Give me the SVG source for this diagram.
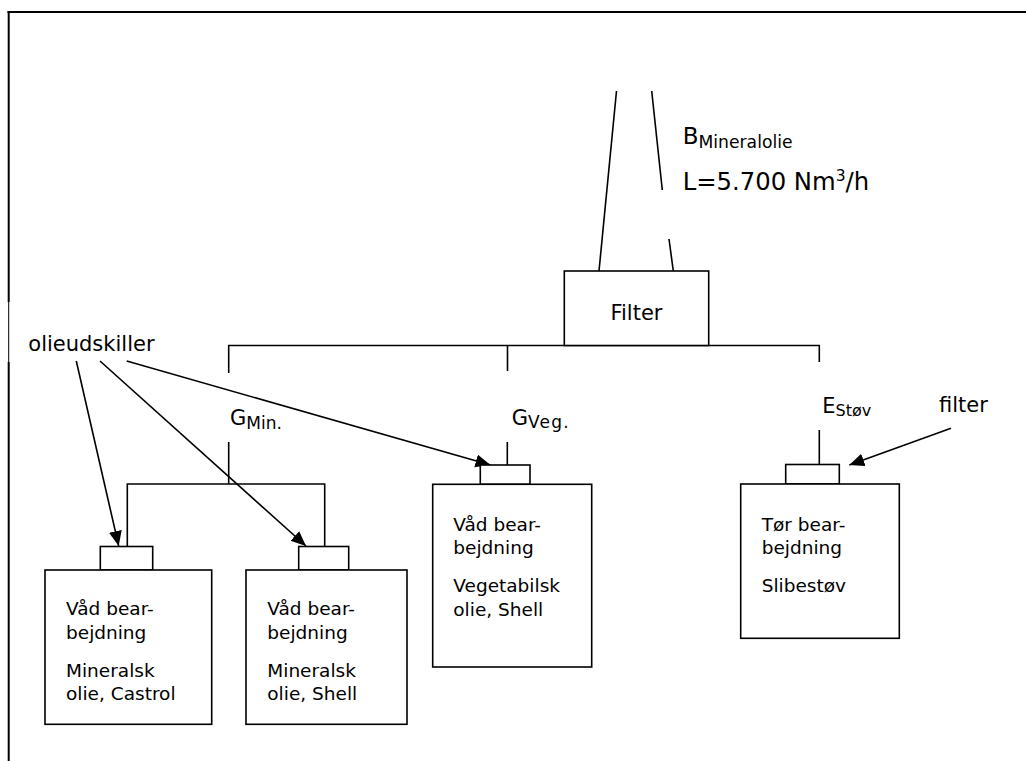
<svg xmlns="http://www.w3.org/2000/svg" width="1026" height="761" viewBox="0 0 1026 761">
<defs>
<style>
.ln{stroke:#000;stroke-width:1.6;fill:none}
.bx{stroke:#000;stroke-width:1.6;fill:#fff}
.t{font-family:"DejaVu Sans",Verdana,sans-serif;fill:#000}
.lab{font-size:21px}
.big{font-size:23px}
.bt{font-size:18.5px}
</style>
<marker id="ah" markerUnits="userSpaceOnUse" markerWidth="16" markerHeight="14" refX="15" refY="6.5" orient="auto">
<path d="M0,0 L15,6.5 L0,13 Z" fill="#000"/>
</marker>
</defs>
<rect width="1026" height="761" fill="#fff"/>
<g id="frame">
<line x1="7.5" y1="12" x2="1026" y2="12" stroke="#000" stroke-width="2.2"/>
<line x1="8.7" y1="11" x2="8.7" y2="302" stroke="#000" stroke-width="2"/>
<line x1="8.7" y1="302" x2="8.7" y2="362" stroke="#000" stroke-width="1"/>
<line x1="8.7" y1="362" x2="8.7" y2="761" stroke="#000" stroke-width="2"/>
</g>
<g id="connectors">
<line class="ln" x1="616.5" y1="91" x2="599" y2="271"/>
<line class="ln" x1="651.7" y1="91" x2="662.3" y2="190"/>
<line class="ln" x1="669" y1="239" x2="673.3" y2="271"/>
<polyline class="ln" points="228.7,373 228.7,345.5 819.3,345.5 819.3,362"/>
<line class="ln" x1="507.5" y1="345.5" x2="507.5" y2="371"/>
<polyline class="ln" points="127.3,546.5 127.3,484 324.7,484 324.7,546.5"/>
<line class="ln" x1="228.7" y1="442" x2="228.7" y2="484"/>
<line class="ln" x1="507.3" y1="442" x2="507.3" y2="465"/>
<line class="ln" x1="819.3" y1="430" x2="819.3" y2="464.5"/>
<line class="ln" x1="76.3" y1="361" x2="118.7" y2="546" marker-end="url(#ah)"/>
<line class="ln" x1="100" y1="361" x2="306" y2="546" marker-end="url(#ah)"/>
<line class="ln" x1="126.7" y1="361" x2="490.5" y2="465" marker-end="url(#ah)"/>
<line class="ln" x1="951" y1="428.3" x2="849.3" y2="465" marker-end="url(#ah)"/>
</g>
<g id="filter">
<rect class="bx" x="564.3" y="271" width="144.4" height="74.5"/>
<text class="t lab" x="636.5" y="320" text-anchor="middle">Filter</text>
</g>
<g id="label-b">
<text class="t big" x="682.7" y="143.5">B<tspan font-size="17.2px" dy="4">Mineralolie</tspan></text>
<text class="t" font-size="24.3px" x="682.7" y="190">L=5.700 Nm<tspan font-size="15.5px" dy="-9.5">3</tspan><tspan dy="9.5">/h</tspan></text>
</g>
<g id="label-olieudskiller">
<text class="t lab" x="28.3" y="351">olieudskiller</text>
</g>
<g id="label-gmin">
<text class="t lab" x="230" y="424.5">G<tspan font-size="17px" dy="4.5">Min.</tspan></text>
</g>
<g id="label-gveg">
<text class="t lab" x="511.7" y="425">G<tspan font-size="17px" dy="3" letter-spacing="1.2">Veg.</tspan></text>
</g>
<g id="label-estov">
<text class="t lab" x="822.3" y="413">E<tspan font-size="16px" dy="2.5">Støv</tspan></text>
</g>
<g id="label-filter">
<text class="t lab" x="939" y="411.7">filter</text>
</g>
<g id="box-castrol">
<rect class="bx" x="100.3" y="546.5" width="52.4" height="23.5"/>
<rect class="bx" x="45" y="570" width="166.7" height="154.3"/>
<text class="t bt"><tspan x="66" y="615">Våd bear-</tspan><tspan x="66" y="638.5">bejdning</tspan><tspan x="66" y="676.5">Mineralsk</tspan><tspan x="66" y="700">olie, Castrol</tspan></text>
</g>
<g id="box-shell-min">
<rect class="bx" x="298.7" y="546.5" width="50" height="23.5"/>
<rect class="bx" x="246" y="570" width="161" height="154.3"/>
<text class="t bt"><tspan x="267.3" y="615">Våd bear-</tspan><tspan x="267.3" y="638.5">bejdning</tspan><tspan x="267.3" y="676.5">Mineralsk</tspan><tspan x="267.3" y="700">olie, Shell</tspan></text>
</g>
<g id="box-veg">
<rect class="bx" x="480.3" y="465" width="49.7" height="19.3"/>
<rect class="bx" x="432.7" y="484.3" width="159" height="182.7"/>
<text class="t bt"><tspan x="453.3" y="530.5">Våd bear-</tspan><tspan x="453.3" y="554">bejdning</tspan><tspan x="453.3" y="592">Vegetabilsk</tspan><tspan x="453.3" y="615.5">olie, Shell</tspan></text>
</g>
<g id="box-stov">
<rect class="bx" x="785.7" y="464.5" width="53.6" height="19.5"/>
<rect class="bx" x="740.7" y="484" width="158.6" height="154.3"/>
<text class="t bt"><tspan x="761.7" y="530.5">Tør bear-</tspan><tspan x="761.7" y="554">bejdning</tspan><tspan x="761.7" y="592">Slibestøv</tspan></text>
</g>
</svg>
